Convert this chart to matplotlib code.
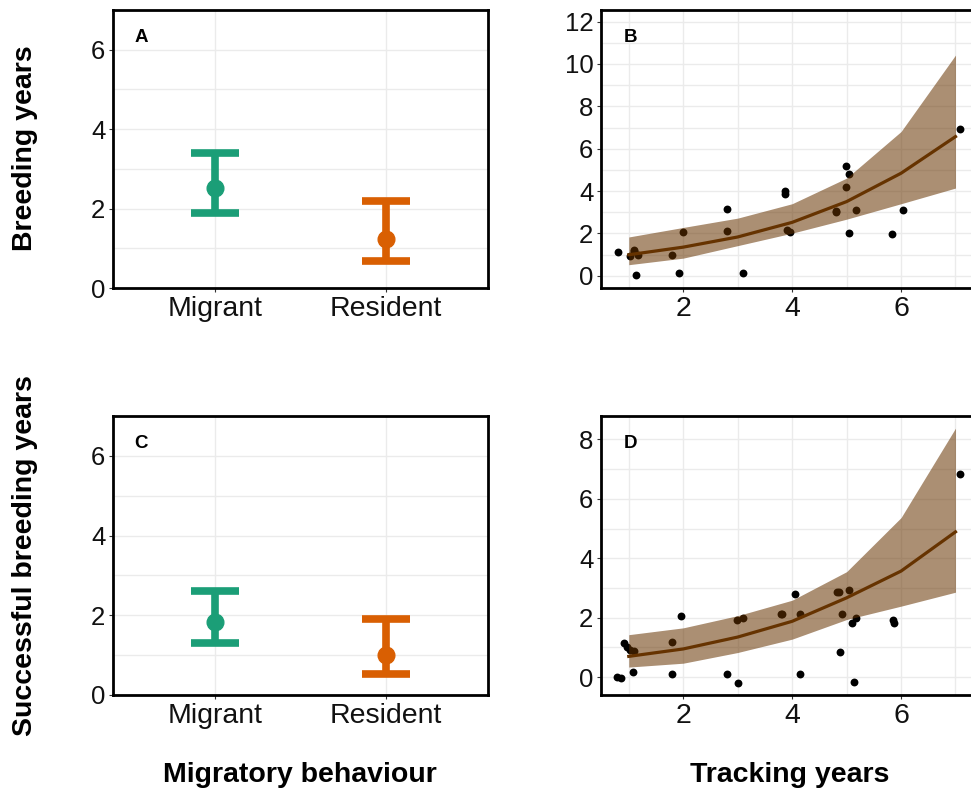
import matplotlib
matplotlib.use("Agg")
import matplotlib.pyplot as plt
from matplotlib.ticker import MultipleLocator

plt.rcParams["font.family"] = ["Liberation Sans", "DejaVu Sans"]

# Group estimates (mean with lower / upper interval)
groups = ["Migrant", "Resident"]
group_colors = ["#1B9E77", "#D95F02"]
breed_mean = [2.53, 1.24]
breed_low = [1.89, 0.69]
breed_high = [3.40, 2.19]
succ_mean = [1.84, 1.00]
succ_low = [1.31, 0.52]
succ_high = [2.61, 1.90]

# Observed birds: tracking years vs breeding years
track_b = [0.80, 1.02, 1.09, 1.10, 1.17, 1.13, 1.79, 1.93, 2.00, 2.80, 2.81, 3.10,
           3.86, 3.87, 3.90, 3.96, 4.80, 4.81, 4.99, 5.05, 4.99, 5.05, 5.17, 5.84,
           6.03, 7.08]
breed_b = [1.12, 0.94, 1.23, 1.15, 0.97, 0.03, 0.99, 0.14, 2.08, 3.13, 2.12, 0.11,
           3.98, 3.85, 2.17, 2.08, 3.07, 3.00, 5.20, 4.81, 4.17, 2.01, 3.10, 1.98,
           3.11, 6.92]

# Observed birds: tracking years vs successful breeding years
track_d = [0.79, 0.86, 0.91, 0.96, 1.02, 1.09, 1.07, 1.80, 1.79, 1.95, 2.81, 3.00,
           2.98, 3.09, 3.79, 3.82, 4.06, 4.14, 4.14, 4.83, 4.86, 5.04, 4.88, 4.91,
           5.10, 5.18, 5.14, 5.86, 5.87, 7.09]
succ_d = [0.02, -0.03, 1.15, 1.01, 0.90, 0.87, 0.18, 0.10, 1.17, 2.06, 0.10, -0.18,
          1.92, 1.99, 2.13, 2.12, 2.81, 2.12, 0.11, 2.87, 2.87, 2.93, 0.85, 2.12,
          1.83, 1.99, -0.17, 1.92, 1.81, 6.83]

# Model predictions with confidence band
pred_x = [1, 2, 3, 4, 5, 6, 7]
pred_b = [0.99, 1.35, 1.83, 2.52, 3.50, 4.84, 6.57]
pred_b_low = [0.52, 0.83, 1.42, 2.01, 2.67, 3.40, 4.14]
pred_b_high = [1.83, 2.28, 2.72, 3.40, 4.61, 6.81, 10.42]
pred_d = [0.70, 0.95, 1.35, 1.88, 2.67, 3.57, 4.89]
pred_d_low = [0.34, 0.47, 0.83, 1.28, 1.94, 2.39, 2.86]
pred_d_high = [1.43, 1.66, 2.07, 2.59, 3.55, 5.37, 8.38]

W, H = 971, 792
fig = plt.figure(figsize=(W / 100, H / 100), dpi=100)


def box(left, top, right, bottom):
    return [left / W, 1 - bottom / H, (right - left) / W, (bottom - top) / H]


ax_a = fig.add_axes(box(113, 10, 488, 288))
ax_b = fig.add_axes(box(601, 10, 980, 288))
ax_c = fig.add_axes(box(113, 416, 488, 695))
ax_d = fig.add_axes(box(601, 416, 980, 695))

GRID = "#EBEBEB"


def style(ax):
    for s in ax.spines.values():
        s.set_linewidth(2.0)
        s.set_color("black")
    ax.tick_params(axis="both", which="major", length=3, width=0.8, color="#333333",
                   labelcolor="#111111", pad=2.5)
    ax.tick_params(axis="x", which="major", labelsize=20.5)
    ax.tick_params(axis="y", which="major", labelsize=18.5)
    ax.tick_params(axis="both", which="minor", length=0)
    ax.grid(True, which="both", color=GRID, linewidth=1.0)
    ax.set_axisbelow(True)


def group_panel(ax, means, lows, highs, letter):
    style(ax)
    xs = [1, 2]
    for x, m, lo, hi, c in zip(xs, means, lows, highs, group_colors):
        ax.errorbar(x, m, yerr=[[m - lo], [hi - m]], fmt="o", color=c,
                    markersize=12, elinewidth=5.5, capsize=17, capthick=5.5)
    ax.set_xlim(0.4, 2.6)
    ax.set_ylim(0, 7)
    ax.set_xticks(xs)
    ax.set_xticklabels(groups)
    ax.yaxis.set_major_locator(MultipleLocator(2))
    ax.yaxis.set_minor_locator(MultipleLocator(1))
    ax.text(0.075, 0.9, letter, transform=ax.transAxes, fontsize=13.5,
            fontweight="bold", ha="center", va="center")


def track_panel(ax, tx, ty, px, py, plo, phi, ylim, ystep, letter):
    style(ax)
    ax.scatter(tx, ty, s=32, color="black", zorder=2, linewidths=0)
    ax.fill_between(px, plo, phi, color="#663300", alpha=0.55, linewidth=0, zorder=3)
    ax.plot(px, py, color="#663300", linewidth=2.3, zorder=4)
    ax.set_xlim(0.49, 7.45)
    ax.set_ylim(*ylim)
    ax.xaxis.set_major_locator(MultipleLocator(2))
    ax.xaxis.set_minor_locator(MultipleLocator(1))
    ax.yaxis.set_major_locator(MultipleLocator(ystep))
    ax.yaxis.set_minor_locator(MultipleLocator(1))
    ax.text(0.079, 0.9, letter, transform=ax.transAxes, fontsize=13.5,
            fontweight="bold", ha="center", va="center")


group_panel(ax_a, breed_mean, breed_low, breed_high, "A")
group_panel(ax_c, succ_mean, succ_low, succ_high, "C")
track_panel(ax_b, track_b, breed_b, pred_x, pred_b, pred_b_low, pred_b_high,
            (-0.58, 12.55), 2, "B")
track_panel(ax_d, track_d, succ_d, pred_x, pred_d, pred_d_low, pred_d_high,
            (-0.6, 8.79), 2, "D")

label_kw = dict(fontsize=20.5, fontweight="bold", ha="center", va="center")
fig.text(25 / W, 1 - 148 / H, "Breeding years", rotation=90, **label_kw)
fig.text(25 / W, 1 - 556 / H, "Successful breeding years", rotation=90, **label_kw)
fig.text(300 / W, 1 - 775 / H, "Migratory behaviour", **label_kw)
fig.text(790 / W, 1 - 775 / H, "Tracking years", **label_kw)

fig.savefig("out.png", dpi=100)
